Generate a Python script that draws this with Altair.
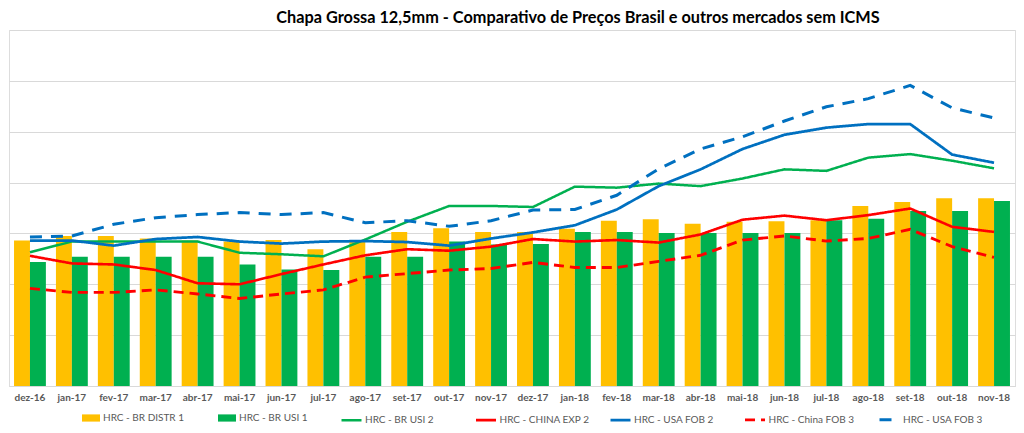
import altair as alt
import pandas as pd

months = ["dez-16", "jan-17", "fev-17", "mar-17", "abr-17", "mai-17", "jun-17", "jul-17",
          "ago-17", "set-17", "out-17", "nov-17", "dez-17", "jan-18", "fev-18", "mar-18",
          "abr-18", "mai-18", "jun-18", "jul-18", "ago-18", "set-18", "out-18", "nov-18"]

bar_series = ["HRC - BR DISTR 1", "HRC - BR USI 1"]
line_series = ["HRC - BR USI 2", "HRC - CHINA EXP 2", "HRC - USA FOB 2",
               "HRC - China FOB 3", "HRC - USA FOB 3"]

br_distr1 = [2.86, 2.95, 2.95, 2.90, 2.86, 2.84, 2.87, 2.69, 2.87, 3.03, 3.10, 3.03,
             3.03, 3.09, 3.25, 3.28, 3.19, 3.23, 3.24, 3.26, 3.54, 3.62, 3.69, 3.69]
br_usi1 = [2.44, 2.54, 2.54, 2.54, 2.54, 2.39, 2.29, 2.28, 2.54, 2.54, 2.84, 2.78,
           2.79, 3.03, 3.03, 3.01, 3.01, 3.01, 3.01, 3.26, 3.29, 3.44, 3.44, 3.64]
br_usi2 = [2.63, 2.84, 2.84, 2.84, 2.84, 2.62, 2.59, 2.55, 2.88, 3.23, 3.54, 3.54,
           3.52, 3.92, 3.90, 3.98, 3.93, 4.08, 4.26, 4.23, 4.49, 4.56, 4.43, 4.28]
china_exp2 = [2.56, 2.41, 2.39, 2.28, 2.02, 2.00, 2.20, 2.39, 2.57, 2.69, 2.66, 2.74,
              2.89, 2.84, 2.87, 2.82, 2.98, 3.27, 3.35, 3.26, 3.36, 3.49, 3.13, 3.03]
usa_fob2 = [2.86, 2.86, 2.76, 2.89, 2.93, 2.84, 2.80, 2.84, 2.85, 2.83, 2.76, 2.90,
            3.02, 3.16, 3.47, 3.93, 4.26, 4.66, 4.94, 5.08, 5.15, 5.15, 4.55, 4.39]
china_fob3 = [1.92, 1.84, 1.84, 1.89, 1.81, 1.72, 1.81, 1.89, 2.14, 2.21, 2.28, 2.31,
              2.43, 2.33, 2.33, 2.45, 2.57, 2.87, 2.95, 2.85, 2.90, 3.08, 2.74, 2.53]
usa_fob3 = [2.93, 2.95, 3.18, 3.31, 3.37, 3.41, 3.37, 3.41, 3.21, 3.25, 3.14, 3.25,
            3.46, 3.47, 3.75, 4.27, 4.66, 4.90, 5.21, 5.49, 5.65, 5.91, 5.47, 5.27]

bar_values = [br_distr1, br_usi1]
line_values = [br_usi2, china_exp2, usa_fob2, china_fob3, usa_fob3]

bar_colors = ["#FFC000", "#00B050"]
line_colors = ["#00B050", "#FF0000", "#0070C0", "#FF0000", "#0070C0"]
line_dashes = [[1, 0], [1, 0], [1, 0], [10, 6], [12, 9]]
line_widths = [2.5, 3, 3, 5, 3.5]

bar_df = pd.DataFrame({
    "month": [m for _ in bar_series for m in months],
    "series": [s for s in bar_series for _ in months],
    "value": [v for vals in bar_values for v in vals],
})
line_df = pd.DataFrame({
    "month": [m for _ in line_series for m in months],
    "series": [s for s in line_series for _ in months],
    "value": [v for vals in line_values for v in vals],
})

FONT = "Lato"

x_enc = alt.X(
    "month:N", sort=months,
    scale=alt.Scale(paddingInner=0.24, paddingOuter=0.12),
    axis=alt.Axis(title=None, labelAngle=0, labelFont=FONT, labelFontWeight="bold",
                  labelFontSize=10, labelColor="#595959", ticks=False,
                  domainColor="#D9D9D9", labelPadding=6, grid=False),
)
y_enc = alt.Y(
    "value:Q",
    scale=alt.Scale(domain=[0, 7], nice=False, zero=True),
    axis=alt.Axis(title=None, labels=False, ticks=False, domain=False,
                  values=list(range(8)), gridColor="#D9D9D9", grid=True),
)

bars = alt.Chart(bar_df).mark_bar().encode(
    x=x_enc,
    y=y_enc,
    xOffset=alt.XOffset("series:N", sort=bar_series,
                        scale=alt.Scale(paddingInner=0, paddingOuter=0)),
    color=alt.Color(
        "series:N",
        scale=alt.Scale(domain=bar_series, range=bar_colors),
        legend=alt.Legend(
            title=None, orient="none", legendX=73, legendY=379,
            direction="horizontal", columns=2, gridAlign="all",
            symbolType="M-1,-0.4H1V0.4H-1Z", symbolSize=324, symbolStrokeWidth=0,
            symbolOpacity=1, labelOffset=3,
            labelFont=FONT, labelFontSize=10, labelColor="#595959",
            columnPadding=34, padding=0,
        ),
    ),
)

line_legend = alt.Legend(
    title=None, orient="none", legendX=331, legendY=378,
    direction="horizontal", columns=5, gridAlign="all",
    symbolType="stroke", symbolSize=400, symbolStrokeWidth=3.5,
    labelOffset=2, labelFont=FONT, labelFontSize=10, labelColor="#595959",
    columnPadding=13.5, padding=0,
)

lines = alt.Chart(line_df).mark_line().encode(
    x=x_enc,
    y=y_enc,
    color=alt.Color("series:N", sort=line_series,
                    scale=alt.Scale(domain=line_series, range=line_colors),
                    legend=line_legend),
    strokeDash=alt.StrokeDash("series:N", sort=line_series,
                              scale=alt.Scale(domain=line_series, range=line_dashes),
                              legend=line_legend),
    strokeWidth=alt.StrokeWidth("series:N", sort=line_series,
                                scale=alt.Scale(domain=line_series, range=line_widths),
                                legend=None),
)

chart = alt.layer(bars, lines).resolve_scale(
    color="independent", strokeDash="independent", strokeWidth="independent"
).resolve_legend(
    color="independent", strokeDash="independent", strokeWidth="independent"
).properties(
    width=1006,
    height=356,
    padding={"left": 1, "top": 22, "right": 1, "bottom": 39},
    autosize=alt.AutoSizeParams(type="none"),
    title=alt.TitleParams(
        "Chapa Grossa 12,5mm - Comparativo de Preços Brasil e outros mercados sem ICMS",
        font=FONT, fontSize=16.3, fontWeight="bold", color="#000000",
        anchor="middle", dx=66, offset=4,
    ),
).configure_view(stroke=None).configure(background="white")

chart.save("out.html", embed_options={"renderer": "svg", "actions": False})
